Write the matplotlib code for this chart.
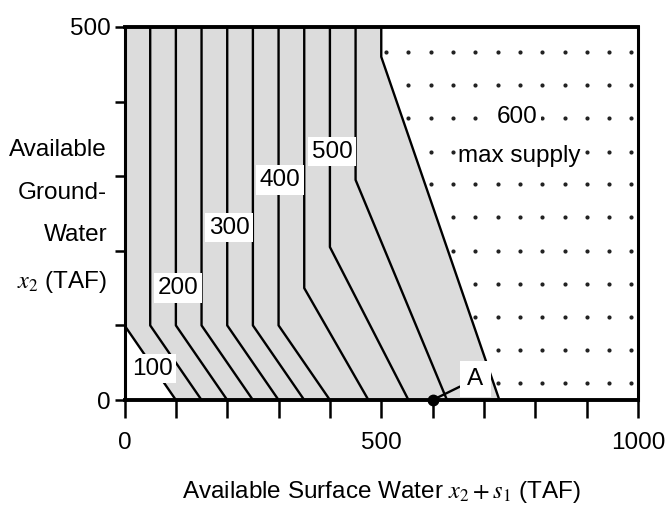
import numpy as np
import matplotlib
matplotlib.use("Agg")
import matplotlib.pyplot as plt

plt.rcParams["font.family"] = ["Liberation Sans", "DejaVu Sans"]
plt.rcParams["mathtext.fontset"] = "stix"

# contour lines of supply: vertical part, bend height, where they meet the x axis (TAF)
LINE_TOP_X = [0, 50, 100, 150, 200, 250, 300, 350, 400, 450]
LINE_BEND_Y = [100, 100, 100, 100, 100, 100, 100, 150, 205, 295]
LINE_BASE_X = [100, 150, 200, 250, 300, 350, 400, 475, 553, 628]

# the 600 "max supply" boundary
BOUND_TOP_X = 500
BOUND_BEND_Y = 460
BOUND_BASE_X = 730

# contour labels: text and where they sit
LABEL_TEXT = ["100", "200", "300", "400", "500"]
LABEL_X = [54, 104, 204, 303, 404]
LABEL_Y = [42, 150, 231, 295, 333]

# dotted texture of the max-supply region
DOT_X = [510, 553, 597, 640, 683, 727, 770, 813, 857, 900, 944, 987]
DOT_Y = [23, 67, 111, 156, 200, 245, 289, 333, 378, 422, 466]

POINT_A = (600, 0)
X_MAX = 1000
Y_MAX = 500

GRAY = "#dcdcdc"
FS = 17.5

fig = plt.figure(figsize=(6.67, 5.17), dpi=100)
ax = fig.add_axes([0.1867, 0.2263, 0.7698, 0.7215])

# gray feasible region left of the boundary
fill_x = [0, 0, LINE_BASE_X[0], BOUND_BASE_X, BOUND_TOP_X, BOUND_TOP_X]
fill_y = [Y_MAX, LINE_BEND_Y[0], 0, 0, BOUND_BEND_Y, Y_MAX]
ax.fill(fill_x, fill_y, color=GRAY, lw=0, zorder=1)

for top_x, bend_y, base_x in zip(LINE_TOP_X, LINE_BEND_Y, LINE_BASE_X):
    ax.plot([top_x, top_x, base_x], [Y_MAX, bend_y, 0], color="black", lw=1.7, zorder=3)

ax.plot([BOUND_TOP_X, BOUND_TOP_X, BOUND_BASE_X], [Y_MAX, BOUND_BEND_Y, 0],
        color="black", lw=1.7, zorder=3)

# dots only right of the boundary
gx, gy = np.meshgrid(DOT_X, DOT_Y)
gx, gy = gx.ravel(), gy.ravel()
edge = np.interp(gy, [0, BOUND_BEND_Y, Y_MAX], [BOUND_BASE_X, BOUND_TOP_X, BOUND_TOP_X])
keep = gx > edge + 6
ax.plot(gx[keep], gy[keep], "o", color="#222222", ms=3, mew=0, zorder=2)

box = dict(boxstyle="square,pad=0.15", fc="white", ec="none")
for txt, lx, ly in zip(LABEL_TEXT, LABEL_X, LABEL_Y):
    ax.text(lx, ly, txt, fontsize=FS, ha="center", va="center", bbox=box, zorder=4)

ax.text(765, 379, "600", fontsize=FS, ha="center", va="center", bbox=box, zorder=4)
ax.text(768, 327, "max supply", fontsize=FS, ha="center", va="center",
        bbox=dict(boxstyle="square,pad=0.05", fc="white", ec="none"), zorder=4)

ax.plot(*POINT_A, "o", color="black", ms=7.5, zorder=6, clip_on=False)
ax.annotate("A", xy=POINT_A, xytext=(683, 28), fontsize=FS, ha="center", va="center",
            bbox=dict(boxstyle="square,pad=0.3", fc="white", ec="none"),
            arrowprops=dict(arrowstyle="-", color="black", lw=1.7, shrinkA=0, shrinkB=0),
            zorder=5)

ax.set_xlim(0, X_MAX)
ax.set_ylim(0, Y_MAX)
ax.set_xticks(np.arange(0, X_MAX + 1, 100))
ax.set_xticklabels(["0", "", "", "", "", "500", "", "", "", "", "1000"])
ax.set_yticks(np.arange(0, Y_MAX + 1, 100))
ax.set_yticklabels(["0", "", "", "", "", "500"])
ax.tick_params(axis="x", direction="out", length=13, width=1.8, labelsize=FS, pad=10)
ax.tick_params(axis="y", direction="out", length=7, width=1.8, labelsize=FS, pad=3)

for side in ["top", "bottom"]:
    ax.spines[side].set_linewidth(2.8)
for side in ["left", "right"]:
    ax.spines[side].set_linewidth(2.2)
for spine in ax.spines.values():
    spine.set_zorder(7)

ax.set_xlabel(r"Available Surface Water $x_2 + s_1$ (TAF)", fontsize=FS, labelpad=18)
ax.set_ylabel("Available\nGround-\nWater\n$x_2$ (TAF)", fontsize=FS, rotation=0,
              ha="right", va="center", multialignment="right", linespacing=2.2)
ax.yaxis.set_label_coords(-0.034, 0.49)

fig.savefig("out.png", dpi=100)
